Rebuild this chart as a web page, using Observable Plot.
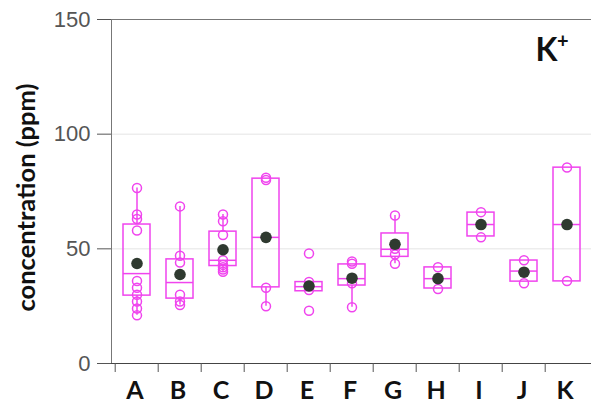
<!DOCTYPE html>
<html>
<head>
<meta charset="utf-8">
<script src="https://cdn.jsdelivr.net/npm/d3@7"></script>
<script src="https://cdn.jsdelivr.net/npm/@observablehq/plot@0.6"></script>
<style>
  html, body { margin: 0; padding: 0; background: #fff; }
  #chart svg { display: block; }
</style>
</head>
<body>
<div id="chart"></div>
<script>
const categories = ["A", "B", "C", "D", "E", "F", "G", "H", "I", "J", "K"];
const q1 =          [29.6, 28.3, 42.5, 33.2, 31.5, 34.0, 46.5, 32.7, 55.4, 35.7, 35.8];
const medianVals =  [39.2, 35.3, 45.0, 55.0, 33.5, 37.0, 49.8, 37.0, 60.6, 40.3, 60.6];
const q3 =          [60.6, 45.4, 57.5, 80.6, 35.5, 43.2, 56.7, 41.9, 65.8, 44.9, 85.4];
const meanVals =    [43.6, 38.8, 49.6, 55.0, 33.8, 37.2, 52.0, 37.0, 60.6, 39.8, 60.6];
const whiskerLow =  [21.0, 25.5, 40.0, 25.0, 31.5, 24.5, 43.5, 32.7, 55.4, 35.7, 35.8];
const whiskerHigh = [76.5, 68.5, 65.0, 80.6, 35.5, 43.2, 64.5, 41.9, 65.8, 44.9, 85.4];

const samplesA = [76.5, 65, 63, 58, 36, 33, 30, 27, 24, 21];
const samplesB = [68.5, 47, 44, 30, 27, 25.5];
const samplesC = [65, 62, 56, 45, 43, 42, 41, 40];
const samplesD = [81, 80, 33, 25];
const samplesE = [48, 35.5, 34, 32, 23];
const samplesF = [44.5, 43.5, 35, 24.5];
const samplesG = [64.5, 50, 47.5, 43.5];
const samplesH = [42, 37, 32.5];
const samplesI = [66, 55];
const samplesJ = [45, 35];
const samplesK = [85.5, 36];

const yTicks = [0, 50, 100, 150];
const gridVals = [50, 100];
const yLabel = "concentration (ppm)";
const ionLabel = "K";
const ionCharge = "+";

const allSamples = [samplesA, samplesB, samplesC, samplesD, samplesE, samplesF,
                    samplesG, samplesH, samplesI, samplesJ, samplesK];
const stats = categories.map((c, i) => ({
  cat: c, q1: q1[i], med: medianVals[i], q3: q3[i], mean: meanVals[i],
  lo: whiskerLow[i], hi: whiskerHigh[i]
}));
const points = allSamples.flatMap((arr, i) => arr.map(v => ({cat: categories[i], v})));

const magenta = "#f044ee";
const boldFont = "Lato, 'Open Sans', sans-serif";

const chart = Plot.plot({
  width: 591,
  height: 404,
  marginLeft: 111,
  marginRight: 0,
  marginTop: 19,
  marginBottom: 41,
  style: {background: "#fff", fontFamily: "'Liberation Sans', Arial, sans-serif"},
  x: {domain: categories, padding: 0, label: null},
  y: {domain: [0, 150], label: null},
  marks: [
    Plot.ruleY(gridVals, {stroke: "#e4e4e4", strokeWidth: 1}),
    Plot.frame({stroke: "#777", strokeWidth: 1}),
    Plot.ruleY([0], {stroke: "#444", strokeWidth: 1.2}),
    Plot.axisY({ticks: yTicks, tickSize: 14, tickPadding: 7, fontSize: 22, color: "#555", label: null}),
    Plot.text([yLabel], {frameAnchor: "left", rotate: -90, dx: -85, dy: 6, textAnchor: "middle", lineAnchor: "middle", fontSize: 25.5, fontWeight: "bold", fill: "#111", fontFamily: boldFont}),
    Plot.axisX({tickSize: 9, text: null, dx: -21.8, stroke: "#555", label: null}),
    Plot.axisX({tickSize: 0, tickPadding: 18, dx: -2, fontSize: 25, fontWeight: "bold", fill: "#111", fontFamily: boldFont, label: null}),
    Plot.ruleX(stats, {x: "cat", y1: "lo", y2: "q1", stroke: magenta, strokeWidth: 1.5}),
    Plot.ruleX(stats, {x: "cat", y1: "q3", y2: "hi", stroke: magenta, strokeWidth: 1.5}),
    Plot.barY(stats, {x: "cat", y1: "q1", y2: "q3", fill: "none", stroke: magenta, strokeWidth: 1.5, insetLeft: 8, insetRight: 8}),
    Plot.tickY(stats, {x: "cat", y: "med", stroke: magenta, strokeWidth: 1.5, insetLeft: 8, insetRight: 8}),
    Plot.dot(points, {x: "cat", y: "v", r: 4.5, stroke: magenta, fill: "none", strokeWidth: 1.5}),
    Plot.dot(stats, {x: "cat", y: "mean", r: 5.8, fill: "#2f3a30", stroke: "none"}),
    Plot.text([ionLabel], {frameAnchor: "top-right", dx: -34, dy: 19, fontSize: 32, fontWeight: "bold", fill: "#111", fontFamily: boldFont, textAnchor: "end", lineAnchor: "top"}),
    Plot.text([ionCharge], {frameAnchor: "top-right", dx: -23, dy: 14, fontSize: 20, fontWeight: "bold", fill: "#111", fontFamily: boldFont, textAnchor: "end", lineAnchor: "top"})
  ]
});
document.getElementById("chart").appendChild(chart);
</script>
</body>
</html>
